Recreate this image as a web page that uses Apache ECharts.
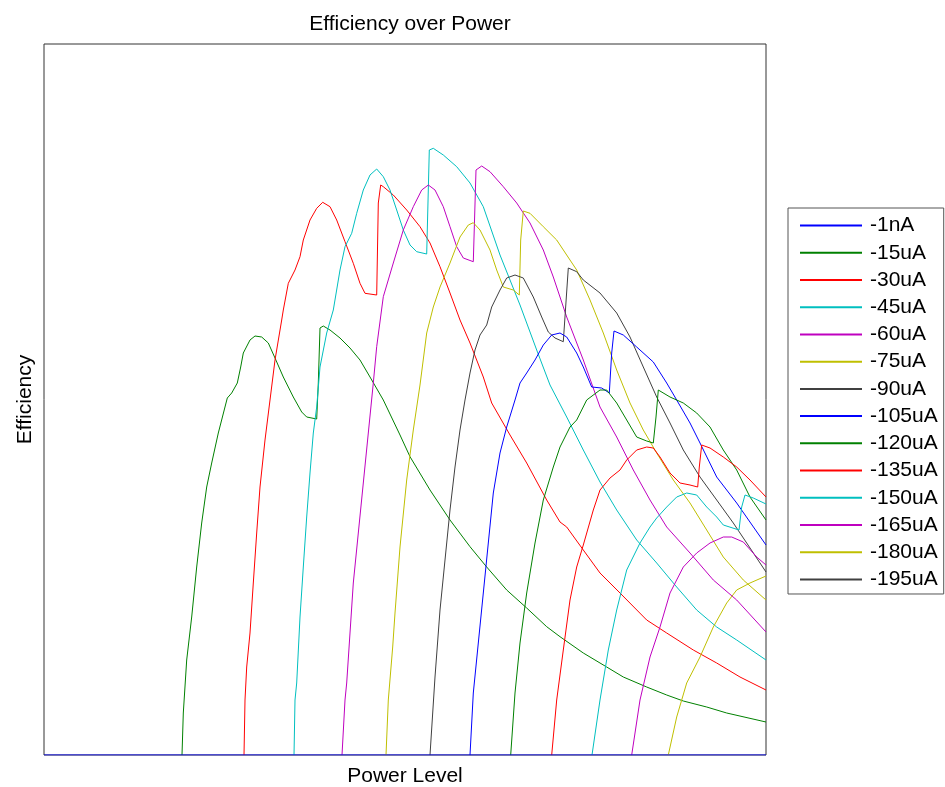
<!DOCTYPE html>
<html>
<head>
<meta charset="utf-8">
<script src="https://cdn.jsdelivr.net/npm/echarts@6/dist/echarts.min.js"></script>
<style>
html,body{margin:0;padding:0;background:#fff;}
#chart{width:945px;height:787px;}
</style>
</head>
<body>
<div id="chart"></div>
<script>
// Series names (legend order)
const seriesNames = ['-1nA','-15uA','-30uA','-45uA','-60uA','-75uA','-90uA','-105uA','-120uA','-135uA','-150uA','-165uA','-180uA','-195uA'];

// Data: [power level, efficiency]
const s_1nA = [[0,0],[72.2,0]];
const s_15uA = [[13.8,0],[13.93,4.2],[14.27,9.5],[14.77,13.8],[15.27,18.8],[15.77,23.2],[16.27,26.8],[16.77,29.2],[17.43,32.2],[18.33,35.7],[18.77,36.2],[19.33,37.2],[19.67,38.8],[19.93,40.2],[20.6,41.5],[21.1,41.9],[21.77,41.8],[22.43,41.2],[23.1,39.7],[23.93,37.8],[24.93,35.8],[25.77,34.3],[26.27,33.8],[27.27,33.6],[27.43,37.2],[27.6,42.7],[27.93,42.9],[28.6,42.5],[29.6,41.7],[30.6,40.7],[31.6,39.5],[32.6,37.8],[33.93,35.5],[35.6,32.0],[36.6,29.83],[38.6,26.5],[40.6,23.5],[42.6,20.83],[44.27,18.8],[46.27,16.5],[48.27,14.7],[50.27,12.83],[51.6,11.83],[53.93,10.2],[56.27,8.8],[57.93,7.8],[60.27,6.8],[62.27,6.0],[63.93,5.4],[66.27,4.8],[68.27,4.2],[72.2,3.3]];
const s_30uA = [[20.0,0],[20.1,5.5],[20.27,8.8],[20.6,12.2],[20.93,17.2],[21.27,22.2],[21.6,26.8],[22.1,31.5],[22.6,35.5],[23.1,39.5],[23.77,43.5],[23.93,44.5],[24.43,47.17],[25.1,48.5],[25.6,49.83],[25.93,51.5],[26.6,53.5],[27.27,54.67],[27.87,55.27],[28.6,54.83],[29.27,53.5],[30.1,51.33],[30.93,49.17],[31.6,47.17],[32.1,46.17],[33.27,46.0],[33.43,55.2],[33.67,57.0],[33.93,56.83],[34.93,56.0],[36.27,54.5],[37.6,52.83],[38.6,51.2],[39.6,48.83],[40.6,46.2],[41.6,43.5],[42.6,41.2],[43.93,37.8],[44.77,35.2],[46.6,32.0],[48.27,29.2],[50.27,25.5],[51.6,23.3],[52.27,22.8],[53.93,20.5],[55.6,18.2],[57.6,16.2],[60.27,13.5],[62.27,12.2],[64.93,10.5],[67.27,9.2],[69.6,7.8],[72.2,6.5]];
const s_45uA = [[25.0,0],[25.1,5.5],[25.27,7.2],[25.6,13.8],[25.93,18.8],[26.27,23.8],[26.6,28.2],[26.93,32.2],[27.27,34.8],[27.6,38.8],[28.27,42.2],[28.93,44.5],[29.6,48.5],[30.1,50.83],[30.77,52.17],[31.27,54.17],[31.93,56.5],[32.6,58.0],[33.27,58.6],[33.93,57.83],[34.6,56.5],[35.27,54.5],[35.93,52.5],[36.6,51.0],[37.27,50.33],[38.27,50.1],[38.53,60.5],[38.93,60.67],[39.93,60.0],[41.27,58.83],[42.6,57.2],[43.93,54.83],[45.6,50.0],[47.6,45.0],[49.27,40.5],[50.6,37.0],[52.27,33.8],[53.93,30.5],[55.6,27.3],[57.27,24.5],[59.27,21.5],[61.27,19.2],[63.27,16.8],[65.27,14.5],[67.27,12.8],[69.27,11.5],[72.2,9.5]];
const s_60uA = [[29.8,0],[30.1,5.5],[30.27,7.2],[30.6,12.2],[30.93,17.2],[31.43,22.2],[31.93,27.2],[32.43,32.2],[32.93,37.2],[33.27,40.83],[33.93,45.83],[34.93,49.2],[35.93,52.5],[36.93,54.83],[37.77,56.5],[38.43,57.0],[39.1,56.5],[39.93,54.83],[40.6,52.83],[41.27,50.83],[41.93,49.7],[42.93,49.33],[43.2,58.5],[43.77,58.9],[44.6,58.33],[45.93,56.83],[47.27,55.2],[48.6,53.2],[49.93,50.5],[50.93,47.8],[52.27,43.8],[53.93,39.5],[55.6,34.8],[57.27,31.8],[58.93,28.5],[60.6,25.5],[62.27,22.8],[64.6,20.2],[66.93,17.5],[69.27,15.5],[72.2,12.3]];
const s_75uA = [[34.2,0],[34.43,5.5],[34.87,10.8],[35.1,14.2],[35.6,20.8],[36.27,27.5],[36.93,32.5],[37.6,37.0],[38.27,42.2],[38.93,44.8],[39.6,46.8],[40.6,49.2],[41.6,51.8],[42.43,53.0],[42.93,53.23],[43.6,52.5],[44.6,50.5],[45.27,48.5],[45.93,46.8],[46.93,46.5],[47.53,46.0],[47.67,51.5],[47.93,54.4],[48.6,54.17],[49.93,52.83],[51.27,51.5],[52.6,49.5],[53.27,48.5],[54.6,45.5],[55.93,42.2],[57.27,38.5],[58.6,35.2],[59.93,32.5],[61.27,30.2],[62.93,27.5],[64.6,25.2],[66.27,22.5],[67.93,19.8],[69.93,17.5],[72.2,15.5]];
const s_90uA = [[38.6,0],[39.1,7.8],[39.6,14.5],[40.1,19.5],[40.6,24.5],[41.1,28.8],[41.6,32.5],[42.1,35.5],[42.6,38.2],[43.1,40.5],[43.6,42.0],[44.27,43.0],[44.77,44.8],[45.6,46.5],[46.27,47.7],[47.1,48.0],[47.93,47.7],[48.93,45.8],[49.77,43.8],[50.43,42.3],[51.1,41.7],[51.93,41.33],[52.43,48.7],[53.27,48.33],[53.93,47.5],[55.6,46.2],[57.27,44.2],[58.6,41.8],[59.93,38.8],[61.27,35.8],[62.6,33.2],[63.93,30.5],[65.6,27.8],[67.27,25.5],[68.93,23.2],[70.27,21.2],[72.2,18.3]];
const s_105uA = [[42.6,0],[42.93,6.2],[43.43,11.2],[43.93,16.2],[44.43,21.2],[44.93,26.2],[45.6,30.2],[46.27,32.8],[47.1,35.5],[47.6,37.2],[48.27,38.2],[49.1,39.5],[49.93,41.0],[50.77,42.0],[51.6,42.2],[52.27,41.8],[53.27,40.2],[53.93,38.8],[54.77,36.8],[55.77,36.7],[56.53,36.2],[56.77,40.2],[57.0,42.4],[57.93,42.0],[59.27,40.8],[60.93,39.3],[62.27,37.2],[63.27,35.5],[64.6,33.2],[65.6,31.2],[67.27,27.8],[69.27,25.2],[72.2,21.0]];
const s_120uA = [[46.67,0],[47.1,6.2],[47.6,11.2],[48.27,16.2],[49.1,21.2],[49.93,25.5],[50.93,28.8],[51.6,30.8],[52.6,32.8],[53.27,33.5],[54.27,35.5],[55.6,36.5],[56.27,36.5],[57.27,35.2],[58.27,33.5],[59.27,31.8],[60.27,31.4],[60.93,31.2],[61.2,33.8],[61.43,36.5],[62.6,35.8],[63.93,35.2],[65.27,34.2],[66.6,32.8],[67.93,30.5],[69.27,28.5],[70.6,25.8],[72.2,23.5]];
const s_135uA = [[50.77,0],[51.27,5.5],[51.93,10.5],[52.6,15.5],[53.27,18.8],[53.93,21.0],[54.93,24.5],[55.6,26.5],[56.6,27.7],[57.6,28.5],[58.27,29.5],[59.27,30.5],[60.27,30.8],[60.93,30.7],[61.6,29.8],[62.6,28.2],[63.6,27.2],[64.6,27.0],[65.37,26.8],[65.53,28.8],[65.77,31.0],[66.6,30.7],[67.93,29.8],[69.27,28.8],[70.6,27.5],[72.2,25.8]];
const s_150uA = [[54.8,0],[55.6,5.5],[56.43,10.5],[57.27,14.5],[58.27,18.5],[59.6,21.2],[60.6,22.8],[61.27,23.7],[62.27,24.8],[63.27,25.8],[64.27,26.2],[65.27,26.0],[66.27,24.8],[67.27,23.8],[67.93,23.0],[69.5,22.5],[69.77,24.8],[70.1,26.0],[70.93,25.7],[72.2,25.1]];
const s_165uA = [[58.77,0],[59.6,5.5],[60.6,9.8],[61.6,12.8],[62.6,16.2],[63.93,18.8],[65.27,20.2],[66.6,21.2],[67.93,21.8],[68.77,21.8],[69.93,21.3],[71.27,19.8],[72.2,19.0]];
const s_180uA = [[62.43,0],[63.27,3.8],[64.27,7.2],[65.6,9.8],[66.93,12.8],[68.27,15.2],[69.27,16.5],[70.6,17.2],[72.2,17.9]];
const s_195uA = [[72.2,0]];

const allData = [s_1nA,s_15uA,s_30uA,s_45uA,s_60uA,s_75uA,s_90uA,s_105uA,s_120uA,s_135uA,s_150uA,s_165uA,s_180uA,s_195uA];
const palette = ['#0000FF','#008000','#FF0000','#00BFBF','#BF00BF','#BFBF00','#404040'];

const xRange = [0, 72.2];
const yRange = [0, 71.1];

const FONT = 'Liberation Sans, Arial, sans-serif';

const chart = echarts.init(document.getElementById('chart'), null, {renderer:'canvas'});
const series = seriesNames.map((n,i)=>({
  name:n,
  type:'line',
  data:allData[i],
  showSymbol:false,
  symbol:'none',
  z: i===0 ? 5 : 2,
  lineStyle:{width:1,color:palette[i%7]},
  itemStyle:{color:palette[i%7]},
  emphasis:{disabled:true},
  animation:false
}));

chart.setOption({
  animation:false,
  backgroundColor:'#fff',
  title:{
    text:'Efficiency over Power',
    left:405, top:9, textAlign:'center',
    textStyle:{fontFamily:FONT,fontSize:21,fontWeight:'normal',color:'#000'}
  },
  grid:{left:44,top:44,width:722,height:711,outerBoundsMode:'none',containLabel:false,show:true,borderColor:'#333',borderWidth:1,backgroundColor:'#fff'},
  xAxis:{
    type:'value',min:xRange[0],max:xRange[1],
    name:'Power Level',nameLocation:'middle',nameGap:11,
    nameTextStyle:{fontFamily:FONT,fontSize:21,color:'#000'},
    axisLine:{show:false},axisTick:{show:false},axisLabel:{show:false},splitLine:{show:false}
  },
  yAxis:{
    type:'value',min:yRange[0],max:yRange[1],
    name:'Efficiency',nameLocation:'middle',nameGap:8,
    nameTextStyle:{fontFamily:FONT,fontSize:21,color:'#000'},
    axisLine:{show:false},axisTick:{show:false},axisLabel:{show:false},splitLine:{show:false}
  },
  legend:{
    orient:'vertical',left:788,top:208,
    padding:[7,6,4,12],
    itemWidth:62,itemHeight:2,itemGap:6.23,
    icon:'rect',
    borderColor:'#555',borderWidth:1,backgroundColor:'#fff',
    textStyle:{fontFamily:FONT,fontSize:21,color:'#000',padding:[0,0,0,3]},
    data:seriesNames,
    selectedMode:false
  },
  series:series
});
</script>
</body>
</html>
